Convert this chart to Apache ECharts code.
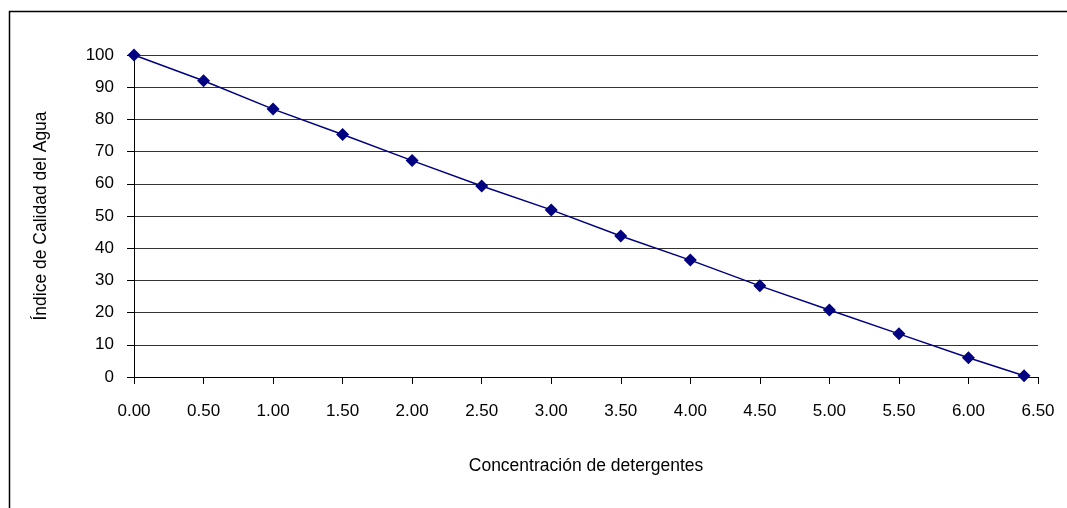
<!DOCTYPE html>
<html>
<head>
    <meta charset="utf-8"/>
    <style>
        html,body { height:100%; width:100%; margin:0; padding:0; background:#fff; }
    </style>
</head>
<body>
<div id="chart" style="width:1067px;height:508px"></div>
<script src="https://cdn.jsdelivr.net/npm/echarts@6/dist/echarts.min.js"></script>
<script type="text/javascript">
    // datos
    var concentracion = [0, 0.5, 1.0, 1.5, 2.0, 2.5, 3.0, 3.5, 4.0, 4.5, 5.0, 5.5, 6.0, 6.4];
    var indiceCalidad = [100, 92, 83.2, 75.3, 67.2, 59.3, 51.9, 43.8, 36.3, 28.3, 20.8, 13.4, 6.0, 0.4];

    var puntos = [];
    for (var i = 0; i < concentracion.length; i++) {
        puntos.push([concentracion[i], indiceCalidad[i]]);
    }

    var fuente = 'Liberation Sans, Arial, sans-serif';
    var myChart = echarts.init(document.getElementById('chart'));

    var option = {
        animation: false,
        backgroundColor: '#fff',
        graphic: [{
            type: 'rect',
            left: 7, top: 9,
            shape: { width: 1070, height: 510 },
            style: { fill: 'none', stroke: '#000', lineWidth: 1.5 }
        }],
        grid: { left: 134, right: 29, top: 55, bottom: 131 },
        xAxis: {
            type: 'value',
            min: 0, max: 6.5, interval: 0.5,
            name: 'Concentración de detergentes',
            nameLocation: 'middle',
            nameGap: 80,
            nameTextStyle: { fontFamily: fuente, fontSize: 17.5, color: '#000' },
            axisLine: { lineStyle: { color: '#000', width: 1 } },
            axisTick: { show: true, length: 7, lineStyle: { color: '#000' } },
            axisLabel: {
                fontFamily: fuente, fontSize: 17, color: '#000', margin: 26,
                formatter: function (v) { return v.toFixed(2); }
            },
            splitLine: { show: false }
        },
        yAxis: {
            type: 'value',
            min: 0, max: 100, interval: 10,
            name: 'Índice de Calidad del Agua',
            nameLocation: 'middle',
            nameGap: 84,
            nameTextStyle: { fontFamily: fuente, fontSize: 17.5, color: '#000' },
            axisLine: { show: true, lineStyle: { color: '#000', width: 1 } },
            axisTick: { show: true, length: 7, lineStyle: { color: '#000' } },
            axisLabel: { fontFamily: fuente, fontSize: 17, color: '#000', margin: 20 },
            splitLine: { show: true, lineStyle: { color: '#333', width: 1 } }
        },
        series: [{
            type: 'line',
            data: puntos,
            symbol: 'diamond',
            symbolSize: 13,
            lineStyle: { color: '#000080', width: 1.5 },
            itemStyle: { color: '#000080' }
        }]
    };
    myChart.setOption(option);
</script>
</body>
</html>
